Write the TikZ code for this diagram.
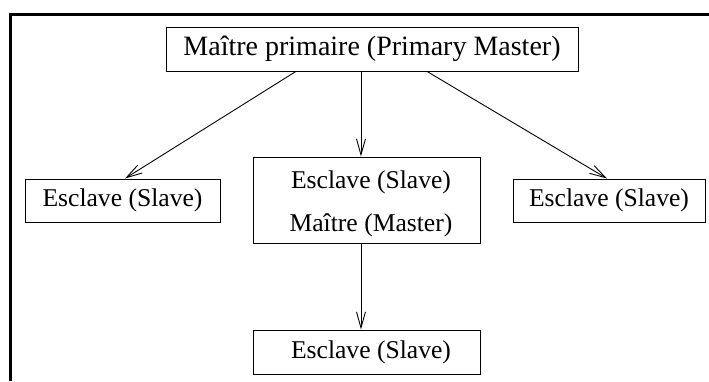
\documentclass[tikz,border=0pt]{standalone}
\usepackage{fontspec}
\setmainfont{Liberation Serif}
\usetikzlibrary{arrows.meta,calc}

\begin{document}
\begin{tikzpicture}[x=1pt,y=-1pt,
  box/.style={draw, line width=1pt, inner sep=0pt, rectangle},
  lbl/.style={font=\fontsize{25.6}{30}\selectfont, inner sep=0pt},
  biglbl/.style={font=\fontsize{28}{32}\selectfont, inner sep=0pt},
  link/.style={line width=0.9pt, -{Straight Barb[length=16pt,width=9pt,line width=0.9pt]}},
  frameline/.style={line width=3pt}]

  \useasboundingbox (0,0) rectangle (709,381);

  % open frame along the top and left
  \draw[frameline] (10.5,381) -- (10.5,14) -- (709,14);

  % boxes
  \node[box, biglbl, minimum width=412pt, minimum height=44pt] (top) at (372,49)
    {Maître primaire (Primary Master)};
  \node[box, lbl, minimum width=195pt, minimum height=43pt] (left) at (122.5,200.5)
    {Esclave (Slave)};
  \node[box, lbl, minimum width=192pt, minimum height=43pt] (right) at (609,200.5)
    {Esclave (Slave)};
  \node[box, minimum width=227pt, minimum height=86pt] (mid) at (366.5,200) {};
  \node[lbl] (midslave) at (371,182) {Esclave (Slave)};
  \node[lbl] (midmaster) at (371,225) {Maître (Master)};
  \node[box, minimum width=227pt, minimum height=44pt] (bottom) at (366.5,352) {};
  \node[lbl] (bottomtext) at (371,352) {Esclave (Slave)};

  % connectors
  \coordinate (tl) at ($(top.south west)!0.3155!(top.south east)$);
  \coordinate (tm) at ($(top.south west)!0.4733!(top.south east)$);
  \coordinate (tr) at ($(top.south west)!0.6335!(top.south east)$);
  \draw[link] (tl) -- ([xshift=2.5pt]left.north);
  \draw[link] (tm) -- (tm |- mid.north);
  \draw[link] (tr) -- ([xshift=-2pt]right.north);
  \draw[link] (tm |- mid.south) -- (tm |- bottom.north);
\end{tikzpicture}
\end{document}
